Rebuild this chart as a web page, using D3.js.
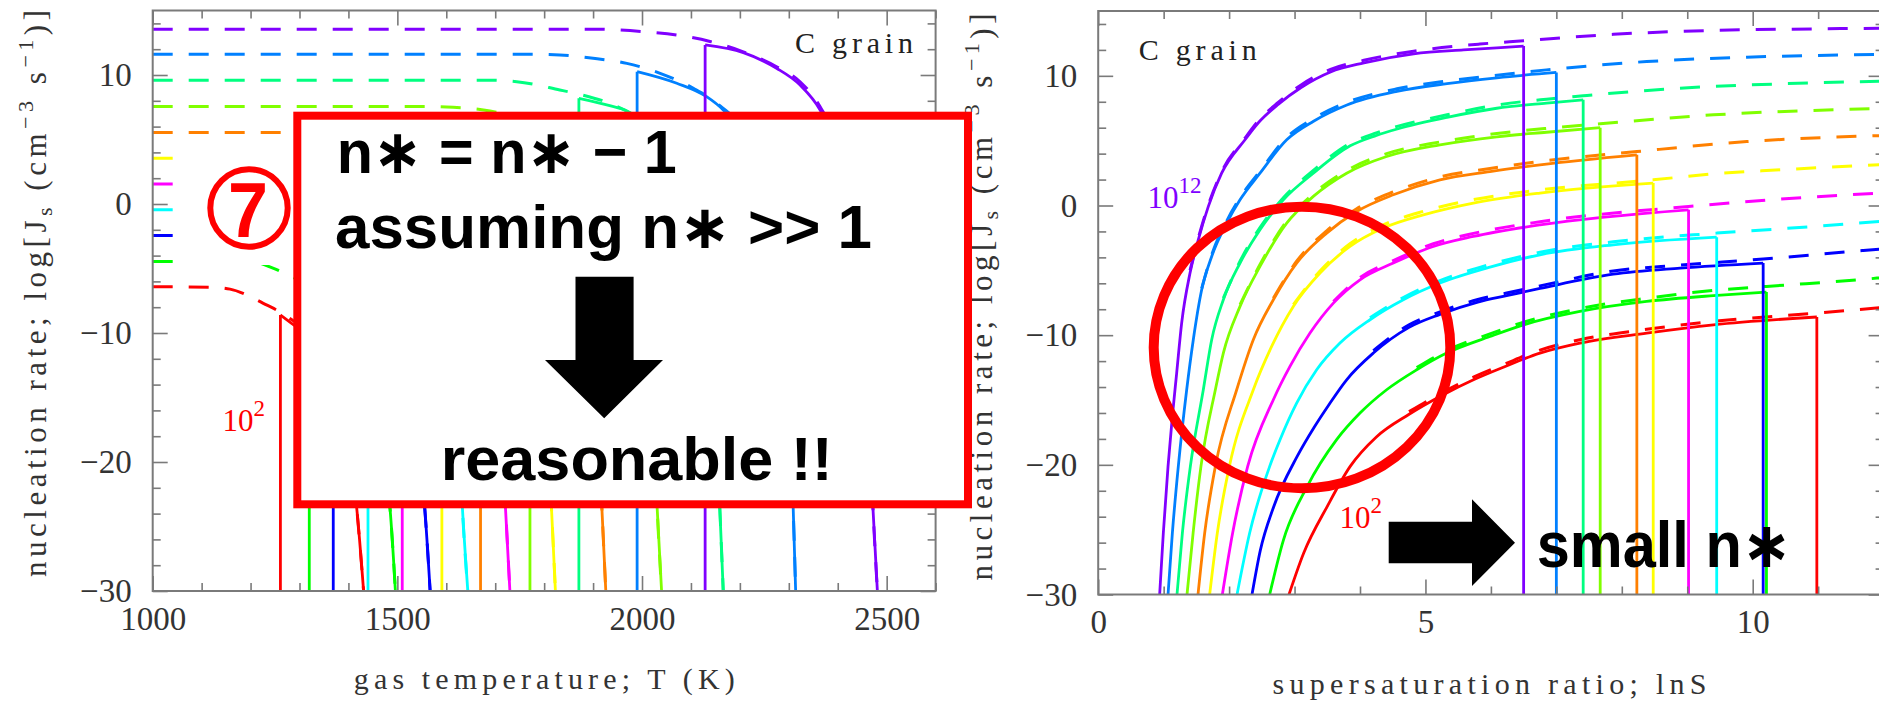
<!DOCTYPE html>
<html>
<head>
<meta charset="utf-8">
<script src="https://cdn.jsdelivr.net/npm/d3@7"></script>
<style>
  html, body { margin: 0; padding: 0; background: #fff; }
  svg { display: block; }
</style>
</head>
<body>
<svg id="chart" width="1879" height="701"></svg>
<script>
// cluster number densities, n = 10^12 ... 10^2 (top to bottom)
const densityLabels = ["1e12", "1e11", "1e10", "1e9", "1e8", "1e7", "1e6", "1e5", "1e4", "1e3", "1e2"];
const colors = ["#8000ff", "#0080ff", "#00ff80", "#80ff00", "#ff8000", "#ffff00",
                "#ff00ff", "#00ffff", "#0000ff", "#00ff00", "#ff0000"];

// left panel: [T (K), log Js] ; solid starts with a vertical cut from -30
const leftSolid = [
  [[2129,12.33],[2207,11.73],[2275,10.52],[2323,9.22],[2364,7.29],[2404,3.8],[2435,-1.7],[2456,-7.7],[2472,-23.6],[2481,-30]],
  [[1990,10.26],[2071,9.36],[2132,8.32],[2166,7.29],[2207,5.3],[2243,1.8],[2272,-3.7],[2291,-9.7],[2309,-23.6],[2314,-30]],
  [[1871,8.19],[1936,7.6],[1969,7.2],[2000,6.3],[2033,5.1],[2069,3.2],[2101,-0.3],[2128,-5.8],[2145,-11.8],[2159,-23.6],[2166,-30]],
  [[1771,6.0],[1830,5.4],[1881,4.2],[1919,2.9],[1951,1.0],[1981,-2.5],[2005,-8.0],[2021,-14],[2031,-23.6],[2040,-30]],
  [[1670,3.9],[1726,3.3],[1775,2.1],[1811,0.8],[1842,-1.1],[1870,-4.6],[1893,-10.1],[1908,-16.1],[1918,-23.6],[1926,-30]],
  [[1591,1.75],[1642,1.15],[1686,-0.05],[1719,-1.35],[1746,-3.25],[1772,-6.75],[1793,-12.25],[1807,-18.25],[1815,-23.6],[1823,-30]],
  [[1510,-0.33],[1558,-0.93],[1600,-2.13],[1631,-3.43],[1657,-5.33],[1682,-8.83],[1701,-14.3],[1715,-20.3],[1721,-23.6],[1730,-30]],
  [[1440,-2.44],[1485,-3.04],[1524,-4.24],[1552,-5.54],[1577,-7.44],[1599,-10.9],[1617,-16.4],[1630,-21.5],[1633,-23.6],[1644,-30]],
  [[1369,-4.44],[1413,-5.04],[1450,-6.24],[1478,-7.54],[1502,-9.44],[1523,-12.9],[1541,-18.4],[1556,-23.6],[1567,-30]],
  [[1320,-6.6],[1359,-7.2],[1392,-8.4],[1417,-9.7],[1438,-11.6],[1457,-15.1],[1473,-20],[1485,-23.6],[1496,-30]],
  [[1261,-8.6],[1289,-9.4],[1331,-10.7],[1355,-12.0],[1375,-13.9],[1394,-17.4],[1409,-21],[1417,-23.6],[1431,-30]]
];

const leftDashed = [
  [[1000,13.55],[1900,13.55],[2003,13.36],[2071,13.1],[2139,12.6],[2207,11.8],[2275,10.64],[2323,9.48],[2364,7.54],[2404,4.1],[2435,-1.4],[2456,-7.4],[2472,-23.6],[2481,-30]],
  [[1000,11.6],[1780,11.6],[1832,11.55],[1900,11.3],[1969,10.9],[2037,10.13],[2105,8.97],[2153,7.8],[2207,5.6],[2243,2.1],[2272,-3.4],[2291,-9.4],[2309,-23.6],[2314,-30]],
  [[1000,9.6],[1680,9.6],[1744,9.48],[1832,8.84],[1873,8.5],[1934,7.8],[1992,6.7],[2033,5.4],[2069,3.5],[2101,0],[2128,-5.5],[2145,-11.5],[2159,-23.6],[2166,-30]],
  [[1000,7.55],[1573,7.55],[1614,7.5],[1676,7.29],[1740,6.8],[1790,6.2],[1830,5.7],[1881,4.5],[1919,3.2],[1951,1.3],[1981,-2.2],[2005,-7.7],[2021,-13.7],[2031,-23.6],[2040,-30]],
  [[1000,5.55],[1480,5.55],[1540,5.4],[1600,5.0],[1640,4.6],[1680,4.15],[1726,3.6],[1775,2.4],[1811,1.1],[1842,-0.8],[1870,-4.3],[1893,-9.8],[1908,-15.8],[1918,-23.6],[1926,-30]],
  [[1000,3.55],[1410,3.55],[1465,3.35],[1520,2.95],[1560,2.5],[1600,2.0],[1642,1.45],[1686,0.25],[1719,-1.05],[1746,-2.95],[1772,-6.45],[1793,-11.95],[1807,-17.95],[1815,-23.6],[1823,-30]],
  [[1000,1.55],[1340,1.55],[1390,1.35],[1440,0.95],[1480,0.5],[1518,-0.05],[1558,-0.63],[1600,-1.83],[1631,-3.13],[1657,-5.03],[1682,-8.53],[1701,-14],[1715,-20],[1721,-23.6],[1730,-30]],
  [[1000,-0.45],[1280,-0.45],[1325,-0.65],[1370,-1.05],[1410,-1.5],[1447,-2.1],[1485,-2.74],[1524,-3.94],[1552,-5.24],[1577,-7.14],[1599,-10.6],[1617,-16.1],[1630,-21.2],[1633,-23.6],[1644,-30]],
  [[1000,-2.45],[1210,-2.45],[1255,-2.65],[1300,-3.05],[1340,-3.55],[1376,-4.1],[1413,-4.74],[1450,-5.94],[1478,-7.24],[1502,-9.14],[1523,-12.6],[1541,-18.1],[1556,-23.6],[1567,-30]],
  [[1000,-4.45],[1200,-4.45],[1247,-4.99],[1284,-5.64],[1326,-6.3],[1359,-6.9],[1392,-8.1],[1417,-9.4],[1438,-11.3],[1457,-14.8],[1473,-19.7],[1485,-23.6],[1496,-30]],
  [[1000,-6.41],[1117,-6.45],[1158,-6.6],[1192,-7.05],[1226,-7.7],[1257,-8.3],[1289,-9.1],[1331,-10.4],[1355,-11.7],[1375,-13.6],[1394,-17.1],[1409,-20.7],[1417,-23.6],[1431,-30]]
];

// right panel: [lnS, log Js] ; solid ends with a vertical cut down to -30
const rightSolid = [
  [[0.939,-30],[0.995,-25.26],[1.067,-20.12],[1.133,-16.27],[1.199,-12.92],[1.275,-9.07],[1.403,-5.21],[1.53,-2.64],[1.683,-0.07],[1.886,2.49],[2.243,5.07],[2.45,6.4],[2.75,7.8],[3.1,9.1],[3.55,10.3],[4.06,11.0],[4.82,11.7],[5.58,12.0],[6.09,12.15],[6.5,12.3]],
  [[1.067,-30],[1.133,-25.26],[1.224,-20.12],[1.352,-14.21],[1.453,-10.35],[1.581,-6.5],[1.734,-3.93],[1.963,-1.36],[2.167,0.44],[2.472,2.49],[2.88,5.07],[3.29,6.5],[3.8,7.75],[4.565,8.8],[5.33,9.4],[6.093,9.85],[7.0,10.26]],
  [[1.204,-30],[1.286,-25.26],[1.408,-20.12],[1.606,-14.21],[1.734,-10.35],[1.912,-7.27],[2.167,-4.44],[2.472,-1.87],[2.829,0.44],[3.287,2.49],[3.85,4.6],[4.25,5.4],[4.57,5.9],[5.33,6.8],[6.09,7.5],[6.85,7.9],[7.41,8.15]],
  [[1.357,-30],[1.45,-25.26],[1.57,-20.12],[1.79,-14.21],[1.912,-11.38],[2.167,-7.78],[2.472,-4.7],[2.88,-1.36],[3.287,0.7],[3.796,2.49],[4.407,3.78],[5.222,4.68],[6.09,5.3],[6.85,5.65],[7.67,6.0]],
  [[1.525,-30],[1.627,-25.26],[1.79,-20.12],[2.116,-14.21],[2.37,-10.35],[2.676,-7.27],[3.032,-4.44],[3.491,-2.13],[3.949,-0.46],[4.509,0.83],[5.222,1.98],[5.986,2.62],[6.75,3.14],[8.23,3.91]],
  [[1.703,-30],[1.82,-25.26],[2.004,-20.12],[2.37,-14.21],[2.65,-10.87],[2.981,-7.78],[3.389,-5.21],[3.847,-3.16],[4.356,-1.74],[4.968,-0.72],[5.732,0.19],[6.75,0.96],[8.48,1.73]],
  [[1.897,-30],[2.054,-25.26],[2.284,-20.12],[2.676,-14.98],[2.93,-12.41],[3.236,-9.84],[3.593,-7.53],[4.0,-5.73],[4.509,-4.44],[5.12,-3.16],[5.732,-2.39],[6.75,-1.49],[9.02,-0.33]],
  [[2.121,-30],[2.314,-25.26],[2.62,-20.12],[2.778,-18.06],[3.032,-15.24],[3.338,-12.67],[3.694,-10.61],[4.153,-8.81],[4.662,-7.27],[5.222,-5.98],[5.986,-4.75],[6.75,-3.8],[7.87,-3.03],[9.45,-2.44]],
  [[2.35,-30],[2.477,-26.6],[2.68,-23.25],[3.04,-19.35],[3.3,-17.1],[3.52,-15.4],[3.796,-13.44],[4.204,-11.38],[4.75,-9.4],[5.222,-8.4],[5.8,-7.45],[6.241,-6.95],[6.75,-6.4],[7.87,-5.3],[8.89,-4.83],[10.16,-4.44]],
  [[2.62,-30],[2.83,-25.8],[3.19,-21.7],[3.643,-18.06],[4.0,-16.01],[4.407,-14.21],[4.866,-12.67],[5.324,-11.38],[5.986,-10.1],[6.5,-9.2],[7.36,-8.17],[8.38,-7.4],[9.4,-6.95],[10.21,-6.68]],
  [[2.915,-30],[3.14,-26.8],[3.5,-23.2],[3.85,-20.12],[4.25,-17.85],[4.75,-16.1],[5.25,-14.65],[5.75,-13.4],[6.2,-12.45],[6.75,-11.38],[7.36,-10.61],[8.38,-9.84],[9.4,-9.2],[10.98,-8.6]]
];

const rightDashed = [
  [[1.403,-5.0],[1.53,-2.5],[1.683,0.05],[1.886,2.6],[2.243,5.2],[2.45,6.55],[2.75,7.95],[3.1,9.3],[3.55,10.5],[4.06,11.2],[4.82,11.9],[5.83,12.45],[6.5,12.7],[7.87,13.2],[9.4,13.5],[10.92,13.62],[12,13.67]],
  [[1.581,-6.4],[1.734,-3.8],[1.963,-1.2],[2.167,0.6],[2.472,2.65],[2.88,5.25],[3.29,6.7],[3.8,7.95],[4.565,9.0],[5.33,9.6],[5.83,9.9],[6.85,10.46],[8.38,11.1],[9.91,11.44],[12,11.65]],
  [[1.912,-7.15],[2.167,-4.3],[2.472,-1.7],[2.829,0.6],[3.287,2.7],[3.85,4.8],[4.25,5.6],[4.57,6.1],[5.33,7.0],[6.09,7.75],[6.85,8.2],[7.41,8.46],[8.89,9.05],[10.42,9.38],[12,9.58]],
  [[2.167,-7.65],[2.472,-4.55],[2.88,-1.2],[3.287,0.9],[3.796,2.7],[4.407,4.0],[5.222,4.9],[6.09,5.55],[6.85,5.95],[7.67,6.3],[9.4,6.99],[12,7.48]],
  [[2.676,-7.15],[3.032,-4.3],[3.491,-1.95],[3.949,-0.25],[4.509,1.05],[5.222,2.2],[5.986,2.85],[6.75,3.4],[8.23,4.16],[9.91,4.93],[12,5.4]],
  [[2.981,-7.65],[3.389,-5.05],[3.847,-2.95],[4.356,-1.5],[4.968,-0.45],[5.732,0.45],[6.75,1.2],[8.48,1.98],[9.4,2.44],[10.42,2.75],[12,3.17]],
  [[3.593,-7.4],[4.0,-5.55],[4.509,-4.25],[5.12,-2.95],[5.732,-2.15],[6.75,-1.25],[9.02,-0.08],[10.42,0.49],[12,0.98]],
  [[4.153,-8.65],[4.662,-7.1],[5.222,-5.8],[5.986,-4.55],[6.75,-3.6],[7.87,-2.8],[9.45,-2.13],[10.93,-1.62],[12,-1.2]],
  [[4.204,-11.2],[4.75,-9.2],[5.222,-8.2],[5.8,-7.25],[6.241,-6.75],[6.75,-6.2],[7.87,-5.05],[8.89,-4.6],[10.16,-4.13],[11.69,-3.47],[12,-3.35]],
  [[4.866,-12.5],[5.324,-11.2],[5.986,-9.9],[6.5,-9.0],[7.36,-7.95],[8.38,-7.15],[9.4,-6.55],[10.21,-6.24],[11.9,-5.6],[12,-5.55]],
  [[4.75,-15.9],[5.25,-14.45],[5.75,-13.2],[6.2,-12.25],[6.75,-11.15],[7.36,-10.35],[8.38,-9.55],[9.4,-8.94],[10.98,-8.3],[12,-7.85]]
];

// tick values
const leftXMajor = [1000, 1500, 2000, 2500];
const leftXMinor = [1100, 1200, 1300, 1400, 1600, 1700, 1800, 1900, 2100, 2200, 2300, 2400, 2600];
const rightXMajor = [0, 5, 10];
const rightXMinor = [1, 2, 3, 4, 6, 7, 8, 9, 11];
const yMajor = [-30, -20, -10, 0, 10];
const yMinor = [-28, -26, -24, -22, -18, -16, -14, -12, -8, -6, -4, -2, 2, 4, 6, 8, 12, 14];

const svg = d3.select("#chart");
const defs = svg.append("defs");
const frameColor = "#7a7a7a";
const serif = "'Liberation Serif', 'Times New Roman', serif";
const bold = "'Liberation Sans', Arial, 'DejaVu Sans', sans-serif";

const left = {
  x: d3.scaleLinear().domain([1000, 2600]).range([152.7, 935.6]),
  y: d3.scaleLinear().domain([-30, 15]).range([591, 10.5]),
  xMajor: leftXMajor, xMinor: leftXMinor, pad: 15.5, id: "clipL"
};
const right = {
  x: d3.scaleLinear().domain([0, 12]).range([1098.2, 1883.6]),
  y: d3.scaleLinear().domain([-30, 15]).range([594.5, 11]),
  xMajor: rightXMajor, xMinor: rightXMinor, pad: 15, id: "clipR"
};

function styleAxis(g) {
  g.select(".domain").remove();
  g.selectAll(".tick line").attr("stroke", frameColor).attr("stroke-width", 1.6);
  g.selectAll(".tick text")
    .attr("font-family", serif)
    .attr("font-size", 33)
    .attr("fill", "#333");
}

function drawFrame(p) {
  const [x0, x1] = p.x.range();
  const [y0, y1] = p.y.range();
  const g = svg.append("g");
  const fmt = d3.format("d");

  g.append("g").attr("transform", `translate(0,${y0})`)
    .call(d3.axisBottom(p.x).tickValues(p.xMajor).tickSize(-15).tickPadding(p.pad).tickFormat(fmt)).call(styleAxis);
  g.append("g").attr("transform", `translate(0,${y0})`)
    .call(d3.axisBottom(p.x).tickValues(p.xMinor).tickSize(-8).tickFormat("")).call(styleAxis);
  g.append("g").attr("transform", `translate(0,${y1})`)
    .call(d3.axisTop(p.x).tickValues(p.xMajor).tickSize(-15).tickFormat("")).call(styleAxis);
  g.append("g").attr("transform", `translate(0,${y1})`)
    .call(d3.axisTop(p.x).tickValues(p.xMinor).tickSize(-8).tickFormat("")).call(styleAxis);

  g.append("g").attr("transform", `translate(${x0},0)`)
    .call(d3.axisLeft(p.y).tickValues(yMajor).tickSize(-15).tickPadding(21).tickFormat(fmt)).call(styleAxis);
  g.append("g").attr("transform", `translate(${x0},0)`)
    .call(d3.axisLeft(p.y).tickValues(yMinor).tickSize(-8).tickFormat("")).call(styleAxis);
  g.append("g").attr("transform", `translate(${x1},0)`)
    .call(d3.axisRight(p.y).tickValues(yMajor).tickSize(-15).tickFormat("")).call(styleAxis);
  g.append("g").attr("transform", `translate(${x1},0)`)
    .call(d3.axisRight(p.y).tickValues(yMinor).tickSize(-8).tickFormat("")).call(styleAxis);

  g.append("rect")
    .attr("x", x0).attr("y", y1)
    .attr("width", x1 - x0).attr("height", y0 - y1)
    .attr("fill", "none").attr("stroke", frameColor).attr("stroke-width", 2);

  defs.append("clipPath").attr("id", p.id)
    .append("rect").attr("x", x0).attr("y", y1).attr("width", x1 - x0).attr("height", y0 - y1);
}

function drawCurves(p, solid, dashed, cutAtStart) {
  const line = d3.line().x(d => p.x(d[0])).y(d => p.y(d[1])).curve(d3.curveMonotoneX);
  const g = svg.append("g").attr("clip-path", `url(#${p.id})`);

  g.selectAll("path.dash").data(dashed).join("path")
    .attr("class", "dash")
    .attr("d", line)
    .attr("fill", "none")
    .attr("stroke", (d, i) => colors[i])
    .attr("stroke-width", 3)
    .attr("stroke-dasharray", "20,16");

  g.selectAll("path.solid").data(solid).join("path")
    .attr("class", "solid")
    .attr("d", line)
    .attr("fill", "none")
    .attr("stroke", (d, i) => colors[i])
    .attr("stroke-width", 2.8);

  // vertical cut where the n* >> 1 approximation breaks down
  g.selectAll("line.cut").data(solid).join("line")
    .attr("class", "cut")
    .attr("x1", d => p.x(cutAtStart ? d[0][0] : d[d.length - 1][0]))
    .attr("x2", d => p.x(cutAtStart ? d[0][0] : d[d.length - 1][0]))
    .attr("y1", d => p.y(cutAtStart ? d[0][1] : d[d.length - 1][1]))
    .attr("y2", p.y(-30))
    .attr("stroke", (d, i) => colors[i])
    .attr("stroke-width", 2.8);
}

drawCurves(left, leftSolid, leftDashed, true);
drawCurves(right, rightSolid, rightDashed, false);
drawFrame(left);
drawFrame(right);

// axis titles
function yTitle(cx, cy) {
  const t = svg.append("text")
    .attr("transform", `translate(${cx},${cy}) rotate(-90)`)
    .attr("text-anchor", "middle")
    .attr("font-family", serif)
    .attr("font-size", 31)
    .attr("fill", "#333")
    .attr("textLength", 567)
    .attr("lengthAdjust", "spacing");
  t.append("tspan").text("nucleation rate; log[J");
  t.append("tspan").attr("font-size", 22).attr("dy", 6).text("s");
  t.append("tspan").attr("dy", -6).text(" (cm");
  t.append("tspan").attr("font-size", 22).attr("dy", -13).text("\u22123");
  t.append("tspan").attr("dy", 13).text(" s");
  t.append("tspan").attr("font-size", 22).attr("dy", -13).text("\u22121");
  t.append("tspan").attr("dy", 13).text(")]");
}
yTitle(46, 293.5);
yTitle(992, 297);

svg.append("text").attr("x", 544.3).attr("y", 689)
  .attr("text-anchor", "middle").attr("font-family", serif).attr("font-size", 30).attr("fill", "#333")
  .attr("textLength", 381).attr("lengthAdjust", "spacing")
  .text("gas temperature; T (K)");
svg.append("text").attr("x", 1489.5).attr("y", 694)
  .attr("text-anchor", "middle").attr("font-family", serif).attr("font-size", 30).attr("fill", "#333")
  .attr("textLength", 434).attr("lengthAdjust", "spacing")
  .text("supersaturation ratio; lnS");

// "C grain" labels
[[795, 53.3], [1138.7, 60]].forEach(([x, y]) => {
  svg.append("text").attr("x", x).attr("y", y)
    .attr("font-family", serif).attr("font-size", 30).attr("fill", "#222")
    .attr("textLength", 118).attr("lengthAdjust", "spacing")
    .text("C grain");
});

// density labels on curves
function powerLabel(x, y, exp, color) {
  const t = svg.append("text").attr("x", x).attr("y", y)
    .attr("font-family", serif).attr("font-size", 31).attr("fill", color);
  t.append("tspan").text("10");
  t.append("tspan").attr("font-size", 23).attr("dy", -15).text(exp);
}
powerLabel(1147.5, 208.3, "12", colors[0]);
powerLabel(1339.5, 528.3, "2", colors[10]);
powerLabel(222.5, 430.7, "2", colors[10]);

// ---- annotations ----
// white patch behind the circled number
svg.append("rect").attr("x", 185).attr("y", 145).attr("width", 109).attr("height", 120).attr("fill", "#fff");
svg.append("circle").attr("cx", 249).attr("cy", 208).attr("r", 38.7)
  .attr("fill", "none").attr("stroke", "#ff0000").attr("stroke-width", 6);
svg.append("text").attr("x", 248).attr("y", 237.3).attr("text-anchor", "middle")
  .attr("font-family", bold).attr("font-weight", "bold").attr("font-size", 77).attr("fill", "#ff0000")
  .attr("textLength", 40).attr("lengthAdjust", "spacingAndGlyphs")
  .text("7");

// red framed box
svg.append("rect").attr("x", 297.3).attr("y", 115.7).attr("width", 670.7).attr("height", 388.6)
  .attr("fill", "#fff").attr("stroke", "#ff0000").attr("stroke-width", 8);

function boldText(x, y, size, len, str) {
  svg.append("text").attr("x", x).attr("y", y)
    .attr("font-family", bold).attr("font-weight", "bold").attr("font-size", size).attr("fill", "#000")
    .attr("textLength", len).attr("lengthAdjust", "spacingAndGlyphs")
    .text(str);
}
boldText(336.7, 173.3, 62, 340, "n\u2217 = n\u2217 \u2212 1");
boldText(335, 248.3, 61, 537, "assuming n\u2217 >> 1");
boldText(440.8, 480, 62, 392, "reasonable !!");
boldText(1536.7, 566.7, 64, 255, "small n\u2217");

// arrows
svg.append("path")
  .attr("d", "M575.5,276.7 L633.6,276.7 L633.6,360 L663,360 L604.2,418.3 L545,360 L575.5,360 Z")
  .attr("fill", "#000");
svg.append("path")
  .attr("d", "M1388.7,521.7 L1472,521.7 L1472,499.3 L1515,542.7 L1472,586 L1472,563.3 L1388.7,563.3 Z")
  .attr("fill", "#000");

// red ellipse on the right panel
svg.append("ellipse").attr("cx", 1302).attr("cy", 347.5).attr("rx", 148.3).attr("ry", 140.8)
  .attr("fill", "none").attr("stroke", "#ff0000").attr("stroke-width", 10);
</script>
</body>
</html>
